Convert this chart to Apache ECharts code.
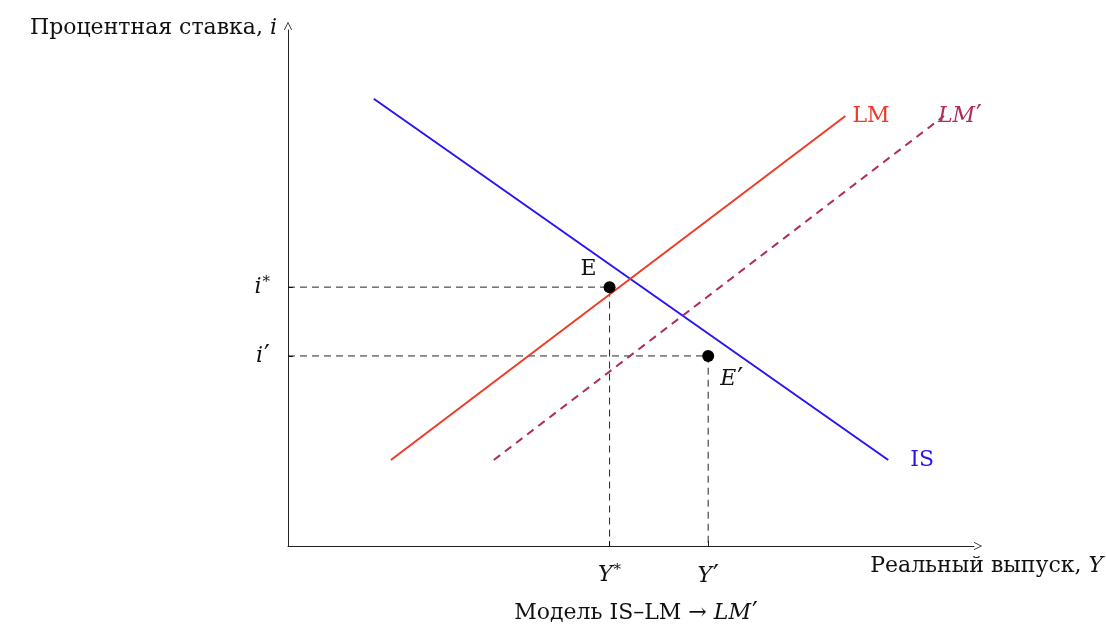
<!DOCTYPE html>
<html>
<head>
<meta charset="utf-8">
<script src="https://cdn.jsdelivr.net/npm/echarts@6/dist/echarts.min.js"></script>
<style>
  html, body { margin: 0; padding: 0; background: #fff; }
  #chart { width: 1106px; height: 628px; }
</style>
</head>
<body>
<div id="chart"></div>
<script>
// curves in model units (x: output Y, y: interest rate i)
const isCurve = [[1.0, 5.2], [7.0, 1.0]]
const lmCurve = [[1.2, 1.0], [6.5, 5.0]]
const lmShiftCurve = [[2.4, 1.0], [7.65, 5.0]]

// equilibrium points E and E'
const eqLabels = ['{n|E}', '{it|E}{pr|′}']
const eqPoints = [[3.75, 3.01], [4.9, 2.21]]

// tick labels on the axes
const outputTicks = [3.75, 4.9]
const outputTickLabels = ['{it|Y}{sup|*}', '{it|Y}{pr|′}']
const rateTicks = [3.01, 2.21]
const rateTickLabels = ['{it|i}{sup|*}', '{it|i}{pr|′}']

const FONT = '"DejaVu Serif", serif'
const FS = 22
const INK = '#111'
const AXIS = '#222'
const GUIDE = '#000'

function richFor(color) {
  return {
    it: { fontFamily: FONT, fontStyle: 'italic', fontSize: FS, color },
    sup: { fontFamily: FONT, fontSize: 15, color, padding: [0, 0, 10, 1] },
    pr: { fontFamily: FONT, fontSize: FS + 4, color, padding: [0, 0, 0, 1] },
    n: { fontFamily: FONT, fontSize: FS, color },
  }
}
const rich = richFor(INK)

// open arrow head, tip pointing up before ECharts rotates it
const arrowHead = 'path://M0,10 L5,0 L10,10 L9.2,10.4 L5,2 L0.8,10.4 Z'

const chart = echarts.init(document.getElementById('chart'))

function guide(p) {
  return {
    type: 'line',
    data: [[0, p[1]], p, [p[0], 0]],
    symbol: 'none',
    silent: true,
    lineStyle: { color: GUIDE, width: 1, type: [7, 5], opacity: 0.85 },
    z: 1,
  }
}

function curve(data, color, label, extra) {
  return {
    type: 'line',
    data,
    symbol: 'none',
    lineStyle: Object.assign({ color, width: 2 }, extra && extra.lineStyle),
    endLabel: Object.assign({
      show: true,
      formatter: label,
      fontFamily: FONT,
      fontSize: FS,
      color,
      distance: 7,
      rich: richFor(color),
    }, extra && extra.endLabel),
    z: 3,
  }
}

chart.setOption({
  animation: false,
  title: {
    text: 'Модель IS–LM → {it|LM}{pr|′}',
    left: 631,
    textAlign: 'center',
    top: 595,
    textStyle: {
      fontFamily: FONT, fontSize: FS, fontWeight: 'normal', color: INK,
      rich,
    },
  },
  grid: { left: 288, right: 131, top: 30, bottom: 82 },
  xAxis: {
    type: 'value',
    min: 0,
    max: 8,
    name: 'Реальный выпуск, {it|Y}',
    nameLocation: 'end',
    nameGap: 129,
    nameTextStyle: {
      fontFamily: FONT, fontSize: FS, color: INK,
      align: 'right', verticalAlign: 'top', padding: [9, 0, 0, 0],
      rich,
    },
    splitLine: { show: false },
    axisLine: {
      onZero: false,
      lineStyle: { color: AXIS, width: 1 },
      symbol: ['none', arrowHead],
      symbolSize: [8, 9],
      symbolOffset: [0, 4],
    },
    axisTick: { show: true, inside: true, length: 5, customValues: outputTicks, lineStyle: { color: AXIS } },
    axisLabel: {
      show: true,
      customValues: outputTicks,
      margin: 17,
      formatter: v => outputTickLabels[outputTicks.indexOf(v)],
      rich,
    },
  },
  yAxis: {
    type: 'value',
    min: 0,
    max: 6,
    name: 'Процентная ставка, {it|i}',
    nameLocation: 'end',
    nameGap: 2,
    nameTextStyle: {
      fontFamily: FONT, fontSize: FS, color: INK,
      align: 'right', verticalAlign: 'middle', padding: [0, 11, 0, 0],
      rich,
    },
    splitLine: { show: false },
    axisLine: {
      onZero: false,
      lineStyle: { color: AXIS, width: 1 },
      symbol: ['none', arrowHead],
      symbolSize: [8, 9],
      symbolOffset: [0, 4],
    },
    axisTick: { show: true, inside: true, length: 5, customValues: rateTicks, lineStyle: { color: AXIS } },
    axisLabel: {
      show: true,
      customValues: rateTicks,
      margin: 18,
      formatter: v => rateTickLabels[rateTicks.indexOf(v)],
      rich,
    },
  },
  series: [
    guide(eqPoints[0]),
    guide(eqPoints[1]),
    curve(isCurve, '#2a14f5', '{n|IS}', { endLabel: { distance: 22 } }),
    curve(lmCurve, '#ee3b26', '{n|LM}'),
    curve(lmShiftCurve, '#b02d58', '{it|LM}{pr|′}', { lineStyle: { type: [8, 6] }, endLabel: { distance: -6 } }),
    {
      type: 'scatter',
      data: eqPoints.map((p, i) => ({
        value: p,
        label: {
          show: true,
          formatter: eqLabels[i],
          position: i === 0 ? [-23, -23] : [18, 16],
          color: INK,
          opacity: 1,
          rich,
        },
      })),
      symbol: 'circle',
      symbolSize: 12,
      itemStyle: { color: '#000', opacity: 1 },
      z: 5,
    },
  ],
})
</script>
</body>
</html>
